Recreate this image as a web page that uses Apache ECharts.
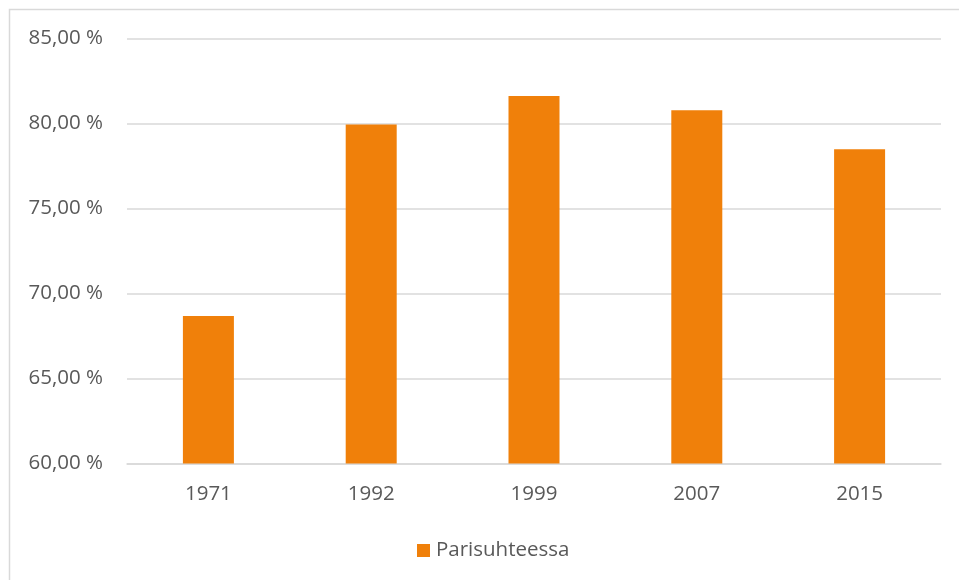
<!DOCTYPE html>
<html>
<head>
<meta charset="utf-8">
<script src="https://cdn.jsdelivr.net/npm/echarts@6/dist/echarts.min.js"></script>
<style>
html,body{margin:0;padding:0;background:#fff;}
#chart{width:959px;height:580px;}
</style>
</head>
<body>
<div id="chart"></div>
<script>
var categories = ['1971', '1992', '1999', '2007', '2015'];
var seriesName = 'Parisuhteessa';
var values = [68.68, 79.94, 81.62, 80.78, 78.48];
var yTicks = [60, 65, 70, 75, 80, 85];

var chart = echarts.init(document.getElementById('chart'));
var font = '"Open Sans", "Noto Sans", sans-serif';
var fs = 20.5;
chart.setOption({
  animation: false,
  textStyle: { fontFamily: font },
  graphic: [{
    type: 'rect',
    shape: { x: 9.5, y: 9.5, width: 2000, height: 2000 },
    style: { fill: 'none', stroke: '#d9d9d9', lineWidth: 1.5 },
    silent: true
  }],
  grid: { left: 127, right: 18, top: 38.5, bottom: 116.5, containLabel: false },
  legend: {
    data: [seriesName],
    left: 412,
    top: 535,
    itemWidth: 13,
    itemHeight: 13,
    itemGap: 10,
    icon: 'rect',
    textStyle: { color: '#595959', fontSize: fs, fontFamily: font, padding: [0, 0, 0, 1] }
  },
  xAxis: {
    type: 'category',
    data: categories,
    axisLine: { lineStyle: { color: '#d9d9d9', width: 1.5 } },
    axisTick: { show: false },
    axisLabel: { color: '#595959', fontSize: fs, margin: 20, fontFamily: font }
  },
  yAxis: {
    type: 'value',
    min: yTicks[0],
    max: yTicks[yTicks.length - 1],
    interval: 5,
    axisLine: { show: false },
    axisTick: { show: false },
    splitLine: { lineStyle: { color: '#d9d9d9', width: 1.5 } },
    axisLabel: {
      color: '#595959', fontSize: fs, margin: 24, fontFamily: font,
      formatter: function (v) { return v.toFixed(2).replace('.', ',') + ' %'; }
    }
  },
  series: [{
    name: seriesName,
    type: 'bar',
    data: values,
    barWidth: 51,
    itemStyle: { color: '#f0800a' }
  }]
});
</script>
</body>
</html>
